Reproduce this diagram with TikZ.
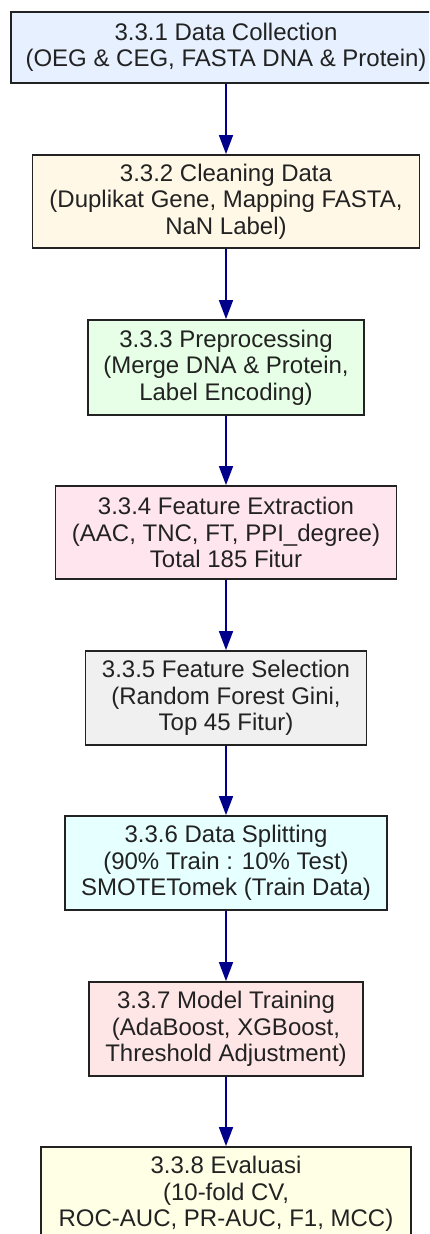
\documentclass[tikz,border=0pt]{standalone}
\usepackage{fontspec}
\setmainfont{Liberation Sans}
\usetikzlibrary{arrows.meta}
\definecolor{cA}{HTML}{E6F0FF}
\definecolor{cB}{HTML}{FFF8E6}
\definecolor{cC}{HTML}{E6FFE6}
\definecolor{cD}{HTML}{FFE6EE}
\definecolor{cE}{HTML}{F0F0F0}
\definecolor{cF}{HTML}{E6FFFF}
\definecolor{cG}{HTML}{FFE6E6}
\definecolor{cH}{HTML}{FFFFE6}
\definecolor{arrowblue}{HTML}{00008B}
\definecolor{txt}{HTML}{222222}
\begin{document}
\begin{tikzpicture}[x=1pt,y=-1pt,
  box/.style={draw=txt, line width=1.8pt, text=txt, align=center, inner sep=0pt,
    font=\fontsize{24}{26.5}\selectfont},
  conn/.style={draw=arrowblue, line width=1.6pt, -{Triangle[length=19pt,width=14pt]}, fill=arrowblue}]
\useasboundingbox (0,0) rectangle (429,1234);
\clip (0,0) rectangle (429,1234);
\fill[white] (0,0) rectangle (429,1234);
\node[box, fill=cA, minimum width=430pt, minimum height=71pt] (n1) at (226,47.5)
  {3.3.1 Data Collection\\(OEG \& CEG, FASTA DNA \& Protein)};
\node[box, fill=cB, minimum width=387pt, minimum height=93pt] (n2) at (226,201.5)
  {3.3.2 Cleaning Data\\(Duplikat Gene, Mapping FASTA,\\NaN Label)};
\node[box, fill=cC, minimum width=276pt, minimum height=95pt] (n3) at (226,367.5)
  {3.3.3 Preprocessing\\(Merge DNA \& Protein,\\Label Encoding)};
\node[box, fill=cD, minimum width=341pt, minimum height=93pt] (n4) at (226,532.5)
  {3.3.4 Feature Extraction\\(AAC, TNC, FT, PPI\_degree)\\Total 185 Fitur};
\node[box, fill=cE, minimum width=281pt, minimum height=94pt] (n5) at (226,698)
  {3.3.5 Feature Selection\\(Random Forest Gini,\\Top 45 Fitur)};
\node[box, fill=cF, minimum width=322pt, minimum height=94pt] (n6) at (226,863)
  {3.3.6 Data Splitting\\(90\% Train : 10\% Test)\\SMOTETomek (Train Data)};
\node[box, fill=cG, minimum width=274pt, minimum height=94pt] (n7) at (226,1029)
  {3.3.7 Model Training\\(AdaBoost, XGBoost,\\Threshold Adjustment)};
\node[box, fill=cH, minimum width=370pt, minimum height=94pt] (n8) at (226,1194)
  {3.3.8 Evaluasi\\(10-fold CV,\\ROC-AUC, PR-AUC, F1, MCC)};
\draw[conn] (n1.south) -- (n2.north);
\draw[conn] (n2.south) -- (n3.north);
\draw[conn] (n3.south) -- (n4.north);
\draw[conn] (n4.south) -- (n5.north);
\draw[conn] (n5.south) -- (n6.north);
\draw[conn] (n6.south) -- (n7.north);
\draw[conn] (n7.south) -- (n8.north);
\end{tikzpicture}
\end{document}
